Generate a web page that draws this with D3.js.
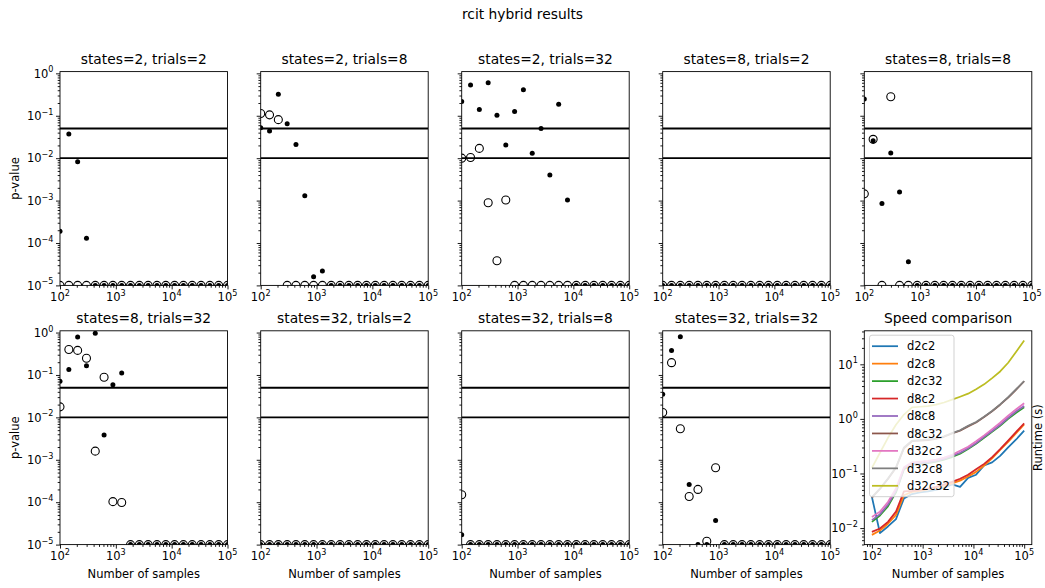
<!DOCTYPE html>
<html><head><meta charset="utf-8">
<script src="https://cdn.jsdelivr.net/npm/d3@7/dist/d3.min.js"></script>
<style>
body{margin:0;background:#fff}
svg text{font-family:"DejaVu Sans",sans-serif;fill:#000}
</style>
</head><body>
<svg id="chart" width="1045" height="588"></svg>
<script>
// ---------------- data ----------------
const figureTitle = "rcit hybrid results";
const nSamples = [100, 144, 207, 298, 428, 616, 886, 1274, 1833, 2637, 3793, 5456, 7848, 11288, 16238, 23357, 33598, 48329, 69519, 100000];
const panelTitles = ["states=2, trials=2", "states=2, trials=8", "states=2, trials=32", "states=8, trials=2", "states=8, trials=8",
                     "states=8, trials=32", "states=32, trials=2", "states=32, trials=8", "states=32, trials=32"];
const thresholds = [0.05, 0.01];

// p-values: filled dots
const filled_s2t2  = [1.9e-4, 0.037, 0.0082, 1.3e-4, 1e-5, 1e-5, 1e-5, 1e-5, 1e-5, 1e-5, 1e-5, 1e-5, 1e-5, 1e-5, 1e-5, 1e-5, 1e-5, 1e-5, 1e-5, 1e-5];
const filled_s2t8  = [0.052, 0.044, 0.32, 0.065, 0.021, 1.3e-3, 1.6e-5, 2.2e-5, 1e-5, 1e-5, 1e-5, 1e-5, 1e-5, 1e-5, 1e-5, 1e-5, 1e-5, 1e-5, 1e-5, 1e-5];
const filled_s2t32 = [0.217, 0.53, 0.14, 0.60, 0.103, 0.0204, 0.126, 0.41, 0.013, 0.05, 0.004, 0.187, 1.03e-3, 1e-5, 1e-5, 1e-5, 1e-5, 1e-5, 1e-5, 1e-5];
const filled_s8t2  = [1e-5, 1e-5, 1e-5, 1e-5, 1e-5, 1e-5, 1e-5, 1e-5, 1e-5, 1e-5, 1e-5, 1e-5, 1e-5, 1e-5, 1e-5, 1e-5, 1e-5, 1e-5, 1e-5, 1e-5];
const filled_s8t8  = [0.25, 0.0258, 8.5e-4, 0.0132, 1.6e-3, 3.6e-5, 1e-5, 1e-5, 1e-5, 1e-5, 1e-5, 1e-5, 1e-5, 1e-5, 1e-5, 1e-5, 1e-5, 1e-5, 1e-5, 1e-5];
const filled_s8t32 = [0.071, 0.134, 0.79, 0.164, 0.96, 3.86e-3, 0.059, 0.112, 1e-5, 1e-5, 1e-5, 1e-5, 1e-5, 1e-5, 1e-5, 1e-5, 1e-5, 1e-5, 1e-5, 1e-5];
const filled_s32t2 = [1e-5, 1e-5, 1e-5, 1e-5, 1e-5, 1e-5, 1e-5, 1e-5, 1e-5, 1e-5, 1e-5, 1e-5, 1e-5, 1e-5, 1e-5, 1e-5, 1e-5, 1e-5, 1e-5, 1e-5];
const filled_s32t8 = [1.7e-5, 1e-5, 1e-5, 1e-5, 1e-5, 1e-5, 1e-5, 1e-5, 1e-5, 1e-5, 1e-5, 1e-5, 1e-5, 1e-5, 1e-5, 1e-5, 1e-5, 1e-5, 1e-5, 1e-5];
const filled_s32t32= [0.035, 0.376, 0.80, 2.6e-4, 1e-5, 1e-5, 3.7e-5, 1e-5, 1e-5, 1e-5, 1e-5, 1e-5, 1e-5, 1e-5, 1e-5, 1e-5, 1e-5, 1e-5, 1e-5, 1e-5];

// p-values: open circles
const open_s2t2  = [1e-5, 1e-5, 1e-5, 1e-5, 1e-5, 1e-5, 1e-5, 1e-5, 1e-5, 1e-5, 1e-5, 1e-5, 1e-5, 1e-5, 1e-5, 1e-5, 1e-5, 1e-5, 1e-5, 1e-5];
const open_s2t8  = [0.113, 0.105, 0.081, 1e-5, 1e-5, 1e-5, 1e-5, 1e-5, 1e-5, 1e-5, 1e-5, 1e-5, 1e-5, 1e-5, 1e-5, 1e-5, 1e-5, 1e-5, 1e-5, 1e-5];
const open_s2t32 = [0.01, 0.0104, 0.017, 8.9e-4, 3.8e-5, 1.03e-3, 1e-5, 1e-5, 1e-5, 1e-5, 1e-5, 1e-5, 1e-5, 1e-5, 1e-5, 1e-5, 1e-5, 1e-5, 1e-5, 1e-5];
const open_s8t2  = [1e-5, 1e-5, 1e-5, 1e-5, 1e-5, 1e-5, 1e-5, 1e-5, 1e-5, 1e-5, 1e-5, 1e-5, 1e-5, 1e-5, 1e-5, 1e-5, 1e-5, 1e-5, 1e-5, 1e-5];
const open_s8t8  = [1.44e-3, 0.0278, 1e-5, 0.28, 1e-5, 1e-5, 1e-5, 1e-5, 1e-5, 1e-5, 1e-5, 1e-5, 1e-5, 1e-5, 1e-5, 1e-5, 1e-5, 1e-5, 1e-5, 1e-5];
const open_s8t32 = [0.0177, 0.40, 0.38, 0.248, 1.6e-3, 0.088, 1.03e-4, 9.8e-5, 1e-5, 1e-5, 1e-5, 1e-5, 1e-5, 1e-5, 1e-5, 1e-5, 1e-5, 1e-5, 1e-5, 1e-5];
const open_s32t2 = [1e-5, 1e-5, 1e-5, 1e-5, 1e-5, 1e-5, 1e-5, 1e-5, 1e-5, 1e-5, 1e-5, 1e-5, 1e-5, 1e-5, 1e-5, 1e-5, 1e-5, 1e-5, 1e-5, 1e-5];
const open_s32t8 = [1.5e-4, 1e-5, 1e-5, 1e-5, 1e-5, 1e-5, 1e-5, 1e-5, 1e-5, 1e-5, 1e-5, 1e-5, 1e-5, 1e-5, 1e-5, 1e-5, 1e-5, 1e-5, 1e-5, 1e-5];
const open_s32t32= [0.013, 0.195, 5.4e-3, 1.36e-4, 2.0e-4, 1.2e-5, 6.5e-4, 1e-5, 1e-5, 1e-5, 1e-5, 1e-5, 1e-5, 1e-5, 1e-5, 1e-5, 1e-5, 1e-5, 1e-5, 1e-5];

// runtimes (s)
const speedLabels = ["d2c2", "d2c8", "d2c32", "d8c2", "d8c8", "d8c32", "d32c2", "d32c8", "d32c32"];
const speedColors = ["#1f77b4", "#ff7f0e", "#2ca02c", "#d62728", "#9467bd", "#8c564b", "#e377c2", "#7f7f7f", "#bcbd22"];
const rt_d2c2   = [0.037, 0.0081, 0.0107, 0.0146, 0.035, 0.042, 0.045, 0.047, 0.05, 0.055, 0.063, 0.057, 0.083, 0.095, 0.14, 0.16, 0.21, 0.3, 0.42, 0.61];
const rt_d2c8   = [0.0075, 0.009, 0.012, 0.0174, 0.04, 0.046, 0.048, 0.051, 0.055, 0.06, 0.066, 0.074, 0.088, 0.107, 0.14, 0.19, 0.27, 0.38, 0.55, 0.79];
const rt_d2c32  = [0.013, 0.017, 0.025, 0.045, 0.12, 0.145, 0.15, 0.155, 0.165, 0.18, 0.2, 0.23, 0.28, 0.35, 0.45, 0.58, 0.75, 1.0, 1.3, 1.63];
const rt_d8c2   = [0.0085, 0.0098, 0.013, 0.02, 0.047, 0.048, 0.05, 0.053, 0.057, 0.063, 0.07, 0.08, 0.095, 0.12, 0.15, 0.2, 0.28, 0.4, 0.58, 0.83];
const rt_d8c8   = [0.014, 0.018, 0.027, 0.048, 0.125, 0.15, 0.155, 0.16, 0.17, 0.185, 0.21, 0.24, 0.29, 0.36, 0.47, 0.6, 0.78, 1.05, 1.38, 1.72];
const rt_d8c32  = [0.036, 0.052, 0.079, 0.127, 0.29, 0.39, 0.40, 0.41, 0.43, 0.47, 0.54, 0.61, 0.73, 0.86, 1.08, 1.38, 1.82, 2.45, 3.45, 4.9];
const rt_d32c2  = [0.016, 0.02, 0.03, 0.053, 0.13, 0.16, 0.165, 0.17, 0.18, 0.195, 0.22, 0.26, 0.31, 0.39, 0.5, 0.65, 0.85, 1.15, 1.5, 1.93];
const rt_d32c8  = [0.037, 0.053, 0.081, 0.13, 0.30, 0.40, 0.41, 0.42, 0.44, 0.48, 0.55, 0.62, 0.75, 0.88, 1.1, 1.4, 1.85, 2.5, 3.5, 4.95];
const rt_d32c32 = [0.127, 0.24, 0.45, 0.78, 1.2, 1.63, 1.67, 1.72, 1.82, 2.0, 2.25, 2.55, 2.9, 3.5, 4.3, 5.6, 7.4, 10.7, 17, 27.3];

const filledSeries = [filled_s2t2, filled_s2t8, filled_s2t32, filled_s8t2, filled_s8t8, filled_s8t32, filled_s32t2, filled_s32t8, filled_s32t32];
const openSeries = [open_s2t2, open_s2t8, open_s2t32, open_s8t2, open_s8t8, open_s8t32, open_s32t2, open_s32t8, open_s32t32];
const speedSeries = [rt_d2c2, rt_d2c8, rt_d2c32, rt_d8c2, rt_d8c8, rt_d8c32, rt_d32c2, rt_d32c8, rt_d32c32];

// ---------------- layout ----------------
const svg = d3.select("#chart");
const W = 167.5, H = 213.8;
const colLeft = [60, 260.7, 461.7, 662.7, 864.3];
const rowTop = [71.6, 330.8];
const FS = 11.5, TFS = 13.8;

svg.append("text").attr("x", 522.5).attr("y", 18.7).attr("text-anchor", "middle")
  .attr("font-size", TFS).text(figureTitle);

function logTicks(domain) {
  const lo = Math.min(...domain), hi = Math.max(...domain);
  const major = [], minor = [];
  for (let e = Math.floor(Math.log10(lo)) - 1; e <= Math.ceil(Math.log10(hi)) + 1; e++) {
    for (let k = 1; k < 10; k++) {
      const v = k * Math.pow(10, e);
      if (v < lo * 0.9999 || v > hi * 1.0001) continue;
      (k === 1 ? major : minor).push(v);
    }
  }
  return {major, minor};
}

function powLabel(sel, v) {
  const e = Math.round(Math.log10(v));
  sel.append("tspan").text("10");
  sel.append("tspan").attr("dy", -5.2).attr("font-size", 8.1).text(String(e).replace("-", "\u2212"));
}

let clipId = 0;
function drawAxes(g, xs, ys, opts) {
  const x0 = xs.range()[0], x1 = xs.range()[1];
  const y0 = ys.range()[1], y1 = ys.range()[0];
  const xt = logTicks(xs.domain()), yt = logTicks(ys.domain());
  const xMinor = d3.axisBottom(xs).tickValues(xt.minor).tickSize(2.3).tickSizeOuter(0).tickFormat("");
  const xMajor = d3.axisBottom(xs).tickValues(xt.major).tickSize(4).tickSizeOuter(0).tickFormat("");
  const yMinor = d3.axisLeft(ys).tickValues(yt.minor).tickSize(2.3).tickSizeOuter(0).tickFormat("");
  const yMajor = d3.axisLeft(ys).tickValues(yt.major).tickSize(4).tickSizeOuter(0).tickFormat("");
  [xMinor, xMajor].forEach(a => {
    const ga = g.append("g").attr("transform", `translate(0,${y1})`).call(a);
    ga.select(".domain").remove();
    ga.selectAll("line").attr("stroke", "#000").attr("stroke-width", 0.9);
  });
  [yMinor, yMajor].forEach(a => {
    const ga = g.append("g").attr("transform", `translate(${x0},0)`).call(a);
    ga.select(".domain").remove();
    ga.selectAll("line").attr("stroke", "#000").attr("stroke-width", 0.9);
  });
  xt.major.forEach(v => {
    const t = g.append("text").attr("x", xs(v)).attr("y", y1 + 15.8)
      .attr("text-anchor", "middle").attr("font-size", FS);
    powLabel(t, v);
  });
  if (opts.yLabels) {
    yt.major.forEach(v => {
      const t = g.append("text").attr("x", x0 - 6.5).attr("y", ys(v) + 4.2)
        .attr("text-anchor", "end").attr("font-size", FS);
      powLabel(t, v);
    });
  }
  g.append("rect").attr("x", x0).attr("y", y0).attr("width", x1 - x0).attr("height", y1 - y0)
    .attr("fill", "none").attr("stroke", "#000").attr("stroke-width", 0.9);
}

function makeClip(x, y, w, h) {
  const id = "clip" + (clipId++);
  svg.append("clipPath").attr("id", id).append("rect").attr("x", x).attr("y", y).attr("width", w).attr("height", h);
  return `url(#${id})`;
}

// p-value panels
panelTitles.forEach((title, i) => {
  const r = Math.floor(i / 5), c = i % 5;
  const left = colLeft[c], top = rowTop[r];
  const xs = d3.scaleLog().domain([1e2, 1e5]).range([left, left + W]);
  const ys = d3.scaleLog().domain([1e-5, 1.1]).range([top + H, top]);
  const g = svg.append("g");
  const clip = makeClip(left, top, W, H);
  const data = g.append("g").attr("clip-path", clip);
  thresholds.forEach(t => {
    data.append("line").attr("x1", left).attr("x2", left + W).attr("y1", ys(t)).attr("y2", ys(t))
      .attr("stroke", "#000").attr("stroke-width", 1.9);
  });
  data.selectAll("circle.f").data(filledSeries[i]).enter().append("circle")
    .attr("cx", (d, j) => xs(nSamples[j])).attr("cy", d => ys(d)).attr("r", 2.5).attr("fill", "#000");
  data.selectAll("circle.o").data(openSeries[i]).enter().append("circle")
    .attr("cx", (d, j) => xs(nSamples[j])).attr("cy", d => ys(d)).attr("r", 4)
    .attr("fill", "none").attr("stroke", "#000").attr("stroke-width", 1.1);
  drawAxes(g, xs, ys, {yLabels: c === 0});
  g.append("text").attr("x", left + W / 2).attr("y", top - 7.8).attr("text-anchor", "middle")
    .attr("font-size", TFS).text(title);
  if (c === 0) {
    g.append("text").attr("transform", `translate(19,${top + H / 2}) rotate(-90)`)
      .attr("text-anchor", "middle").attr("font-size", FS).text("p-value");
  }
  if (r === 1) {
    g.append("text").attr("x", left + W / 2).attr("y", top + H + 33.5).attr("text-anchor", "middle")
      .attr("font-size", FS).text("Number of samples");
  }
});

// speed comparison panel
(function () {
  const left = colLeft[4], top = rowTop[1];
  const lx = nSamples.map(Math.log10);
  const allY = speedSeries.flat().map(Math.log10);
  const xr = [d3.min(lx), d3.max(lx)], yr = [d3.min(allY), d3.max(allY)];
  const xm = (xr[1] - xr[0]) * 0.05, ym = (yr[1] - yr[0]) * 0.05;
  const xs = d3.scaleLog().domain([Math.pow(10, xr[0] - xm), Math.pow(10, xr[1] + xm)]).range([left, left + W]);
  const ys = d3.scaleLog().domain([Math.pow(10, yr[0] - ym), Math.pow(10, yr[1] + ym)]).range([top + H, top]);
  const g = svg.append("g");
  const clip = makeClip(left, top, W, H);
  const data = g.append("g").attr("clip-path", clip);
  const line = d3.line().x((d, j) => xs(nSamples[j])).y(d => ys(d));
  speedSeries.forEach((s, k) => {
    data.append("path").attr("d", line(s)).attr("fill", "none")
      .attr("stroke", speedColors[k]).attr("stroke-width", 1.75).attr("stroke-linejoin", "round");
  });
  drawAxes(g, xs, ys, {yLabels: true});
  g.append("text").attr("x", left + W / 2).attr("y", top - 7.8).attr("text-anchor", "middle")
    .attr("font-size", TFS).text("Speed comparison");
  g.append("text").attr("x", left + W / 2).attr("y", top + H + 33.5).attr("text-anchor", "middle")
    .attr("font-size", FS).text("Number of samples");
  g.append("text").attr("transform", `translate(1042.3,${top + H / 2}) rotate(-90)`)
    .attr("text-anchor", "middle").attr("font-size", FS).text("Runtime (s)");
  // legend
  const lg = g.append("g");
  const lgX = left + 5.2, lgY = top + 4.4;
  lg.append("rect").attr("x", lgX).attr("y", lgY).attr("width", 84.5).attr("height", 161.5)
    .attr("rx", 2.5).attr("fill", "#fff").attr("fill-opacity", 0.8)
    .attr("stroke", "#cccccc").attr("stroke-width", 0.9);
  speedLabels.forEach((lab, k) => {
    const yy = lgY + 11 + k * 17.45;
    lg.append("line").attr("x1", lgX + 2.5).attr("x2", lgX + 28.5).attr("y1", yy).attr("y2", yy)
      .attr("stroke", speedColors[k]).attr("stroke-width", 1.75);
    lg.append("text").attr("x", lgX + 37.5).attr("y", yy + 4.2).attr("font-size", FS).text(lab);
  });
})();
</script>
</body></html>
